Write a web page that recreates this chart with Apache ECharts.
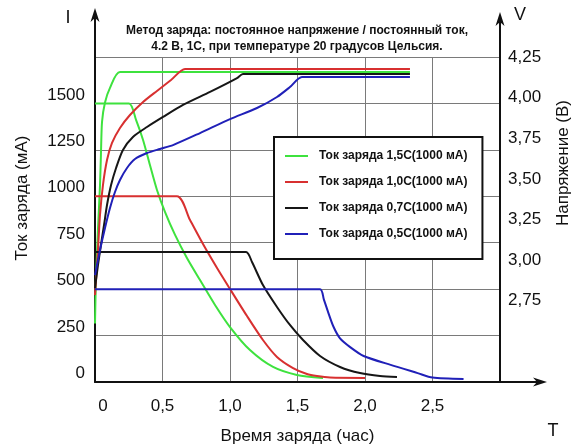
<!DOCTYPE html>
<html><head><meta charset="utf-8">
<script src="https://cdn.jsdelivr.net/npm/echarts@6/dist/echarts.min.js"></script>
<style>html,body{margin:0;padding:0;background:#fff}#c{width:573px;height:446px}</style>
</head><body><div id="c"></div>
<script>
// ---- data ----
const titleLines = ['Метод заряда: постоянное напряжение / постоянный ток,', '4.2 В, 1С, при температуре 20 градусов Цельсия.'];
const seriesNames = ['Ток заряда 1,5C(1000 мА)', 'Ток заряда 1,0C(1000 мА)', 'Ток заряда 0,7C(1000 мА)', 'Ток заряда 0,5C(1000 мА)'];
const seriesColors = ['#3ee23e', '#d83030', '#161616', '#2020b8'];
const xTicks = { min: 0, max: 3, interval: 0.5 };
const iTicks = { min: 0, max: 1750, interval: 250 };
const vTicks = { min: 2.25, max: 4.25, interval: 0.25 };
const axisNames = { x: 'Время заряда (час)', i: 'Ток заряда (мА)', v: 'Напряжение (В)', iSym: 'I', vSym: 'V', tSym: 'T' };

// current (mA) vs time (h)
const current15 = [[0,1500],[0.252,1500],[0.304,1411],[0.356,1303],[0.407,1168],[0.459,1034],[0.519,915],[0.593,792],[0.681,668],[0.778,549],[0.889,415],[1.0,296],[1.148,172],[1.319,81],[1.496,38],[1.689,22]];
const current10 = [[0,1000],[0.607,1000],[0.704,872],[0.8,743],[0.904,614],[1.0,501],[1.126,355],[1.244,226],[1.348,135],[1.467,75],[1.57,43],[1.644,32],[1.741,24],[2.0,22]];
const current07 = [[0,700],[1.119,700],[1.163,646],[1.244,522],[1.348,404],[1.444,307],[1.541,226],[1.667,140],[1.815,81],[1.963,48],[2.111,32],[2.237,27]];
const current05 = [[0,500],[1.667,500],[1.695,445],[1.725,380],[1.765,300],[1.815,235],[1.89,188],[1.99,140],[2.19,92],[2.39,48],[2.5,24],[2.73,16]];
// voltage (V) vs time (h)
const voltage15 = [[0,2.61],[0.007,2.88],[0.022,3.19],[0.037,3.46],[0.044,3.65],[0.052,3.85],[0.074,3.97],[0.111,4.06],[0.185,4.158],[2.333,4.158]];
const voltage10 = [[0,2.785],[0.022,3.062],[0.037,3.278],[0.059,3.462],[0.089,3.616],[0.126,3.721],[0.185,3.813],[0.259,3.893],[0.356,3.973],[0.459,4.041],[0.563,4.108],[0.667,4.176],[2.333,4.176]];
const voltage07 = [[0,2.828],[0.022,2.97],[0.044,3.093],[0.067,3.216],[0.089,3.339],[0.119,3.462],[0.156,3.567],[0.207,3.678],[0.281,3.758],[0.385,3.819],[0.504,3.881],[0.652,3.955],[0.852,4.035],[1.052,4.12],[1.096,4.145],[2.333,4.145]];
const voltage05 = [[0,2.908],[0.037,3.062],[0.074,3.198],[0.111,3.321],[0.148,3.419],[0.185,3.493],[0.237,3.567],[0.296,3.622],[0.385,3.659],[0.481,3.684],[0.578,3.708],[0.778,3.782],[1.0,3.868],[1.2,3.936],[1.348,4.004],[1.444,4.065],[1.533,4.127],[2.333,4.127]];

const currents = [current15, current10, current07, current05];
const voltages = [voltage15, voltage10, voltage07, voltage05];

// ---- chart ----
const FONT = 'Liberation Sans, Arial, sans-serif';
const chart = echarts.init(document.getElementById('c'));
const series = [];
seriesNames.forEach((n, k) => {
  series.push({ name: n, type: 'line', xAxisIndex: 0, yAxisIndex: 0, data: currents[k], symbol: 'none', smooth: 0.25,
    lineStyle: { color: seriesColors[k], width: 2 }, itemStyle: { color: seriesColors[k] }, z: 3, animation: false });
  series.push({ name: n, type: 'line', xAxisIndex: 0, yAxisIndex: 1, data: voltages[k], symbol: 'none', smooth: 0.25,
    lineStyle: { color: seriesColors[k], width: 2 }, itemStyle: { color: seriesColors[k] }, z: 3, animation: false });
});

const gridLine = { show: true, lineStyle: { color: '#7a7a7a', width: 1 } };
const axisLine = { show: true, onZero: false, lineStyle: { color: '#111', width: 2 } };

chart.setOption({
  animation: false,
  backgroundColor: '#fff',
  grid: { left: 95, right: 73, top: 57, bottom: 64, containLabel: false, outerBoundsMode: 'none' },
  legend: {
    data: seriesNames, orient: 'vertical', left: 274, top: 137,
    backgroundColor: '#fff', borderColor: '#111', borderWidth: 2, borderRadius: 0,
    padding: [12, 15, 18, 11], itemGap: 12, itemWidth: 23, itemHeight: 2, icon: 'rect',
    textStyle: { fontFamily: FONT, fontSize: 12, fontWeight: 'bold', color: '#111', lineHeight: 14, padding: [0, 0, 0, 6] },
    selectedMode: false, z: 10
  },
  xAxis: {
    type: 'value', min: xTicks.min, max: xTicks.max, interval: xTicks.interval,
    name: axisNames.x, nameLocation: 'middle', nameGap: 46,
    nameTextStyle: { fontFamily: FONT, fontSize: 17, color: '#111' },
    axisLine: axisLine, axisTick: { show: false }, splitLine: gridLine,
    axisLabel: { fontFamily: FONT, fontSize: 17, color: '#111', margin: 16,
      formatter: v => v === 0 ? '{z|0}' : (v >= 3 ? '' : v.toFixed(1).replace('.', ',')),
      rich: { z: { fontFamily: FONT, fontSize: 17, color: '#111', padding: [0, 0, 0, 16] } } }
  },
  yAxis: [
    { type: 'value', position: 'left', min: iTicks.min, max: iTicks.max, interval: iTicks.interval,
      axisLine: axisLine, axisTick: { show: false }, splitLine: gridLine,
      axisLabel: { fontFamily: FONT, fontSize: 17, color: '#111', margin: 10, verticalAlign: 'bottom',
        formatter: v => v >= 1750 ? '' : String(v) } },
    { type: 'value', position: 'right', min: vTicks.min, max: vTicks.max, interval: vTicks.interval,
      axisLine: axisLine, axisTick: { show: false }, splitLine: { show: false },
      axisLabel: { fontFamily: FONT, fontSize: 17, color: '#111', margin: 8,
        formatter: v => v < 2.7 ? '' : v.toFixed(2).replace('.', ',') } }
  ],
  series: series
});

// ---- decorations: axis extensions with arrows, symbols, titles ----
const pO = chart.convertToPixel({ xAxisIndex: 0, yAxisIndex: 0 }, [xTicks.min, iTicks.min]);
const pE = chart.convertToPixel({ xAxisIndex: 0, yAxisIndex: 0 }, [xTicks.max, iTicks.max]);
const x0 = pO[0], y0 = pO[1], x1 = pE[0], y1 = pE[1];
const blk = '#111';
function upArrow(x, tip) { return { type: 'polygon', shape: { points: [[x, tip], [x - 4.5, tip + 14], [x, tip + 10], [x + 4.5, tip + 14]] }, style: { fill: blk } }; }
chart.setOption({
  graphic: [
    { type: 'line', shape: { x1: x0, y1: y1, x2: x0, y2: 12 }, style: { stroke: blk, lineWidth: 2 } },
    upArrow(x0, 8),
    { type: 'line', shape: { x1: x1, y1: y1, x2: x1, y2: 16 }, style: { stroke: blk, lineWidth: 2 } },
    upArrow(x1, 12),
    { type: 'line', shape: { x1: x1, y1: y0, x2: x1 + 42, y2: y0 }, style: { stroke: blk, lineWidth: 2 } },
    { type: 'polygon', shape: { points: [[x1 + 47, y0], [x1 + 33, y0 - 4.5], [x1 + 37, y0], [x1 + 33, y0 + 4.5]] }, style: { fill: blk } },
    { type: 'text', x: x0 - 27, y: 18, style: { text: axisNames.iSym, font: '18px ' + FONT, fill: blk, align: 'center', verticalAlign: 'middle' } },
    { type: 'text', x: x1 + 20, y: 15, style: { text: axisNames.vSym, font: '18px ' + FONT, fill: blk, align: 'center', verticalAlign: 'middle' } },
    { type: 'text', x: x1 + 53, y: 431, style: { text: axisNames.tSym, font: '18px ' + FONT, fill: blk, align: 'center', verticalAlign: 'middle' } },
    { type: 'text', x: 22, y: 198, rotation: Math.PI / 2, style: { text: axisNames.i, font: '17px ' + FONT, fill: blk, align: 'center', verticalAlign: 'middle' } },
    { type: 'text', x: 563, y: 163, rotation: Math.PI / 2, style: { text: axisNames.v, font: '17px ' + FONT, fill: blk, align: 'center', verticalAlign: 'middle' } },
    { type: 'text', x: 297, y: 31, style: { text: titleLines[0], font: 'bold 12px ' + FONT, fill: blk, align: 'center', verticalAlign: 'middle' } },
    { type: 'text', x: 297, y: 47, style: { text: titleLines[1], font: 'bold 12px ' + FONT, fill: blk, align: 'center', verticalAlign: 'middle' } }
  ]
});
</script></body></html>
